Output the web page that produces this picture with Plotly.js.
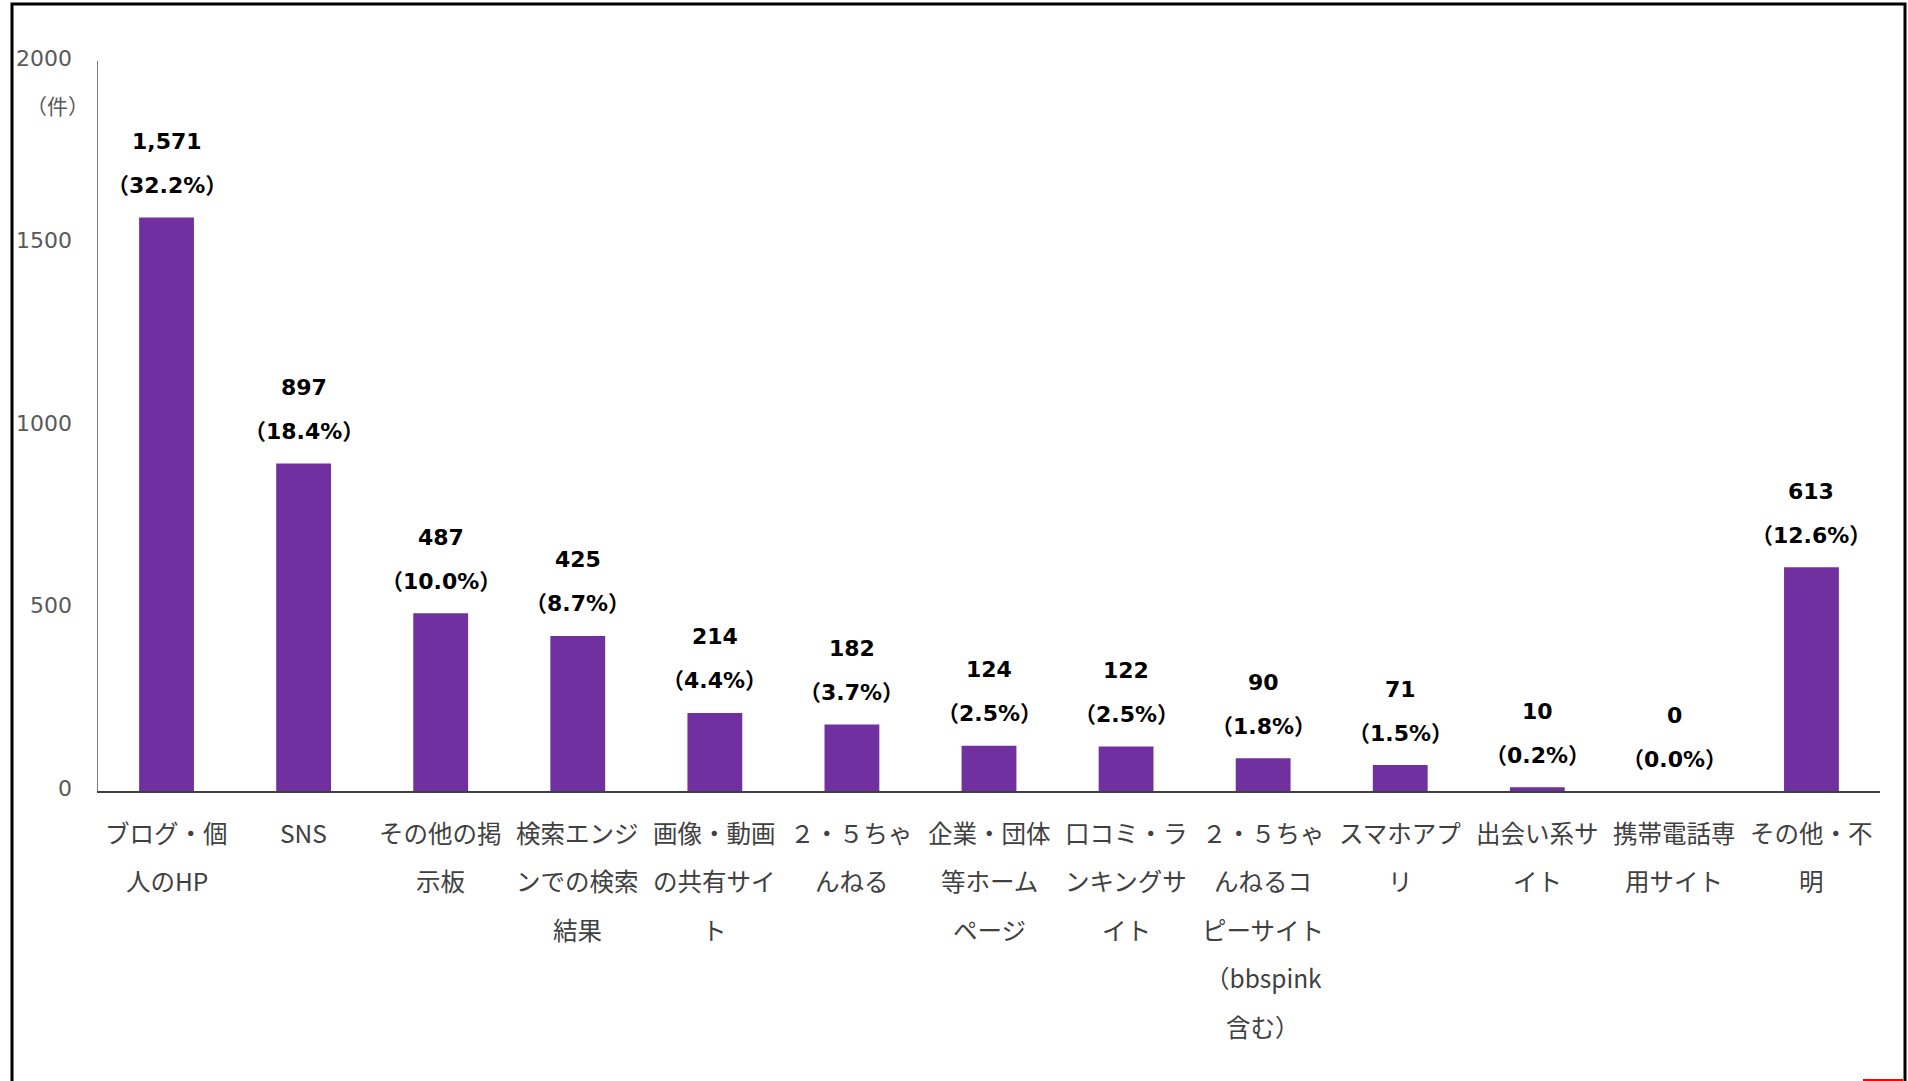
<!DOCTYPE html>
<html>
<head>
<meta charset="utf-8">
<script src="https://cdn.plot.ly/plotly-3.0.1.min.js"></script>
<style>html,body{margin:0;padding:0;background:#fff;}#chart{width:1908px;height:1081px;}</style>
</head>
<body>
<div id="chart"></div>
<script>
// ---- data ----
const categories = [
  "ブログ・個人のHP", "SNS", "その他の掲示板", "検索エンジンでの検索結果",
  "画像・動画の共有サイト", "２・５ちゃんねる", "企業・団体等ホームページ",
  "口コミ・ランキングサイト", "２・５ちゃんねるコピーサイト（bbspink含む）",
  "スマホアプリ", "出会い系サイト", "携帯電話専用サイト", "その他・不明"
];
const categoryLines = [
  ["ブログ・個", "人のHP"],
  ["SNS"],
  ["その他の掲", "示板"],
  ["検索エンジ", "ンでの検索", "結果"],
  ["画像・動画", "の共有サイ", "ト"],
  ["２・５ちゃ", "んねる"],
  ["企業・団体", "等ホーム", "ページ"],
  ["口コミ・ラ", "ンキングサ", "イト"],
  ["２・５ちゃ", "んねるコ", "ピーサイト", "（bbspink", "含む）"],
  ["スマホアプ", "リ"],
  ["出会い系サ", "イト"],
  ["携帯電話専", "用サイト"],
  ["その他・不", "明"]
];
const counts = [1571, 897, 487, 425, 214, 182, 124, 122, 90, 71, 10, 0, 613];
const percents = [32.2, 18.4, 10.0, 8.7, 4.4, 3.7, 2.5, 2.5, 1.8, 1.5, 0.2, 0.0, 12.6];
const yTicks = [0, 500, 1000, 1500, 2000];
const unitLabel = "（件）";

// ---- layout geometry ----
const W = 1908, H = 1081;
const M = {l: 98, r: 28, t: 61, b: 290};
const pw = W - M.l - M.r, ph = H - M.t - M.b;
const px2x = p => (p - M.l) / pw;
const py2y = p => (H - M.b - p) / ph;

const numFont = "DejaVu Sans, Verdana, 'Noto Sans CJK JP', sans-serif";
const jpFont = "'Noto Sans CJK JP', 'Noto Sans', sans-serif";

const annotations = [];
categories.forEach((c, i) => {
  annotations.push({
    x: c, y: counts[i], xref: 'x', yref: 'y',
    text: '<b>' + counts[i].toLocaleString('en-US') + '</b>',
    showarrow: false, yanchor: 'middle', yshift: 76,
    font: {family: numFont, size: 22, color: '#000000'}
  });
  annotations.push({
    x: c, y: counts[i], xref: 'x', yref: 'y',
    text: '<b>（' + percents[i].toFixed(1) + '%）</b>',
    showarrow: false, yanchor: 'middle', yshift: 32,
    font: {family: numFont, size: 22, color: '#000000'}
  });
  categoryLines[i].forEach((line, j) => {
    annotations.push({
      x: c, y: 0, xref: 'x', yref: 'y',
      text: line, showarrow: false, yanchor: 'middle',
      yshift: -(41 + 48.5 * j),
      font: {family: jpFont, size: 24.5, color: '#404040'}
    });
  });
});
// y tick labels
yTicks.forEach(v => {
  annotations.push({
    x: px2x(74), y: v, xref: 'paper', yref: 'y',
    text: String(v), showarrow: false, xanchor: 'right', yanchor: 'middle',
    yshift: 3,
    font: {family: numFont, size: 22, color: '#595959'}
  });
});
annotations.push({
  x: px2x(57), y: py2y(105), xref: 'paper', yref: 'paper',
  text: unitLabel, showarrow: false, xanchor: 'center', yanchor: 'middle',
  font: {family: jpFont, size: 21, color: '#595959'}
});

const trace = {
  type: 'bar', x: categories, y: counts,
  marker: {color: '#7030A0'},
  hoverinfo: 'none'
};

const layout = {
  width: W, height: H,
  margin: M,
  paper_bgcolor: '#ffffff', plot_bgcolor: '#ffffff',
  bargap: 0.6,
  showlegend: false,
  xaxis: {
    type: 'category', showticklabels: false, ticks: '',
    showgrid: false, zeroline: false,
    showline: true, linecolor: '#404040', linewidth: 2
  },
  yaxis: {
    range: [0, 2000], tickvals: yTicks, showticklabels: false,
    showgrid: false, zeroline: false, ticks: '',
    showline: true, linecolor: '#7f7f7f', linewidth: 1.5
  },
  annotations: annotations,
  shapes: [
    {type: 'rect', xref: 'paper', yref: 'paper',
     x0: px2x(12), x1: px2x(1905), y0: py2y(1090), y1: py2y(4),
     line: {color: '#000000', width: 3}, fillcolor: 'rgba(0,0,0,0)'},
    {type: 'line', xref: 'paper', yref: 'paper',
     x0: px2x(1863), x1: px2x(1903), y0: py2y(1080), y1: py2y(1080),
     line: {color: '#ff0000', width: 2}}
  ]
};

Plotly.newPlot('chart', [trace], layout, {staticPlot: true, displayModeBar: false});
</script>
</body>
</html>
